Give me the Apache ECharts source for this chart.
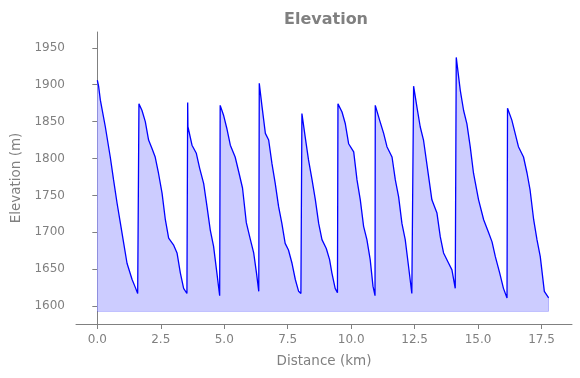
<!DOCTYPE html>
<html>
<head>
<meta charset="utf-8">
<script src="https://cdn.jsdelivr.net/npm/echarts@6/dist/echarts.min.js"></script>
<style>html,body{margin:0;padding:0;background:#fff}#c{width:580px;height:378px}</style>
</head>
<body>
<div id="c"></div>
<script>
const distances = [
  0.00, 0.05, 0.12, 0.315, 0.51, 0.64, 0.78, 0.91, 1.04, 1.17, 1.37, 1.50, 1.59,
  1.64, 1.76, 1.89, 2.02, 2.15, 2.28, 2.41, 2.55, 2.68, 2.81, 3.00, 3.14, 3.27, 3.40, 3.53,
  3.56, 3.57, 3.73, 3.90, 4.03, 4.19, 4.32, 4.45, 4.58, 4.71, 4.82,
  4.84, 4.97, 5.10, 5.24, 5.43, 5.57, 5.72, 5.87, 6.03, 6.16, 6.27, 6.36,
  6.38, 6.49, 6.62, 6.75, 6.88, 7.01, 7.14, 7.27, 7.40, 7.53, 7.67, 7.80, 7.93, 8.02,
  8.06, 8.19, 8.32, 8.46, 8.59, 8.72, 8.85, 9.02, 9.15, 9.24, 9.37, 9.46,
  9.48, 9.64, 9.77, 9.90, 10.10, 10.23, 10.36, 10.49, 10.62, 10.75, 10.86, 10.94,
  10.95, 11.12, 11.28, 11.41, 11.61, 11.74, 11.87, 12.00, 12.13, 12.26, 12.39,
  12.46, 12.59, 12.72, 12.85, 12.98, 13.18, 13.38, 13.51, 13.64, 13.84, 13.97, 14.10,
  14.14, 14.30, 14.43, 14.56, 14.69, 14.82, 15.02, 15.22, 15.42, 15.55, 15.68, 15.85, 16.00, 16.14,
  16.16, 16.33, 16.46, 16.59, 16.79, 16.93, 17.05, 17.19, 17.32, 17.45, 17.61, 17.78
];
const elevations = [
  1906, 1898, 1879, 1843, 1802, 1771, 1739, 1712, 1685, 1658, 1636, 1625, 1617,
  1874, 1865, 1850, 1825, 1814, 1802, 1780, 1753, 1717, 1692, 1683, 1672, 1645, 1624, 1617,
  1876, 1843, 1818, 1807, 1787, 1766, 1735, 1703, 1681, 1645, 1614,
  1872, 1859, 1841, 1818, 1802, 1782, 1760, 1713, 1690, 1672, 1645, 1620,
  1902, 1870, 1834, 1825, 1793, 1766, 1735, 1712, 1685, 1676, 1658, 1636, 1620, 1617,
  1861, 1829, 1798, 1771, 1744, 1712, 1690, 1678, 1663, 1645, 1624, 1618,
  1874, 1863, 1847, 1820, 1809, 1771, 1744, 1708, 1690, 1663, 1627, 1614,
  1872, 1852, 1834, 1816, 1802, 1771, 1748, 1712, 1690, 1654, 1617,
  1898, 1870, 1843, 1825, 1793, 1744, 1726, 1694, 1672, 1658, 1649, 1624,
  1937, 1892, 1865, 1847, 1816, 1780, 1744, 1717, 1699, 1687, 1667, 1645, 1624, 1611,
  1868, 1852, 1834, 1816, 1802, 1780, 1757, 1717, 1690, 1667, 1620, 1611
];
const xTicks = [0, 2.5, 5, 7.5, 10, 12.5, 15, 17.5];
const yTicks = [1600, 1650, 1700, 1750, 1800, 1850, 1900, 1950];
const fillBase = 1593;

const pts = distances.map((d, i) => [d, elevations[i]]);
const n = distances.length;
const x0 = distances[0], x1 = distances[n - 1];
const grey = '#808080';
const chart = echarts.init(document.getElementById('c'), null, {renderer: 'canvas'});
chart.setOption({
  animation: false,
  backgroundColor: '#fff',
  title: {
    text: 'Elevation', left: 279, top: 7,
    textStyle: {fontFamily: 'DejaVu Sans', fontWeight: 'bold', fontSize: 16, color: grey}
  },
  grid: {left: 76, top: 32, right: 8, bottom: 54, containLabel: false, outerBoundsMode: 'none'},
  xAxis: {
    type: 'value', min: -0.84, max: 18.70,
    name: 'Distance (km)', nameLocation: 'middle', nameGap: 30,
    nameTextStyle: {fontFamily: 'DejaVu Sans', fontSize: 13.5, color: grey},
    axisLine: {show: true, lineStyle: {color: grey, width: 1}},
    axisTick: {show: true, length: 5, lineStyle: {color: grey}, customValues: xTicks},
    axisLabel: {fontFamily: 'DejaVu Sans', fontSize: 12, color: grey, margin: 10,
      customValues: xTicks, formatter: v => Number(v).toFixed(1)},
    splitLine: {show: false}
  },
  yAxis: {
    type: 'value', min: 1575.7, max: 1971.4,
    name: 'Elevation (m)', nameLocation: 'middle', nameGap: 52, nameRotate: 90,
    nameTextStyle: {fontFamily: 'DejaVu Sans', fontSize: 13.5, color: grey},
    axisLine: {show: true, lineStyle: {color: grey, width: 1}},
    axisTick: {show: true, length: 5, lineStyle: {color: grey}, customValues: yTicks},
    axisLabel: {fontFamily: 'DejaVu Sans', fontSize: 12, color: grey, margin: 11,
      customValues: yTicks, formatter: v => String(Math.round(v))},
    splitLine: {show: false}
  },
  series: [{
    type: 'line', data: pts, showSymbol: false, symbol: 'none',
    lineStyle: {color: '#0000ff', width: 1.3},
    areaStyle: {color: '#ccccff', opacity: 1, origin: fillBase},
    z: 3,
    markLine: {
      silent: true, symbol: ['none', 'none'], label: {show: false},
      lineStyle: {color: 'rgba(0,0,255,0.2)', width: 1, type: 'solid'},
      data: [
        [{coord: [x0, fillBase]}, {coord: [x1, fillBase]}],
        [{coord: [x1, fillBase]}, {coord: [x1, elevations[n - 1]]}],
        [{coord: [x0, fillBase]}, {coord: [x0, elevations[0]]}]
      ]
    }
  }]
});
</script>
</body>
</html>
